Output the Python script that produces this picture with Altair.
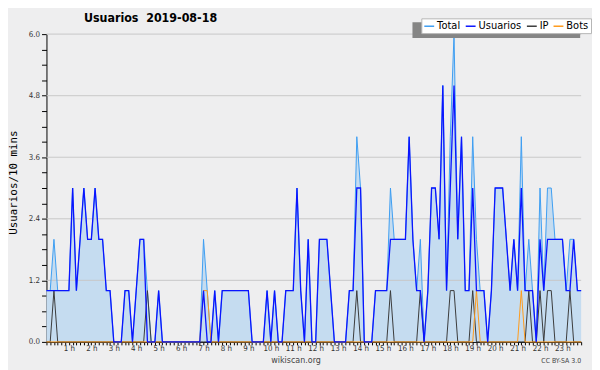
import altair as alt
import pandas as pd

# ---- data (10-minute buckets, 144 per day) ----
hour_labels = [f"{h} h" for h in range(1, 24)]
series_names = ["Total", "Usuarios", "IP", "Bots"]
series_colors = ["#3d9df2", "#0a14ff", "#3a3a3a", "#ff9a1a"]
y_grid = [1.2, 2.4, 3.6, 4.8, 6.0]
title_text = ["Usuarios\u00a0\u00a02019-08-18"]
footer_text = ["wikiscan.org"]
license_text = ["CC BY-SA 3.0"]

total = [
    1, 1, 2, 1, 1, 1,   1, 3, 1, 2, 3, 2,   2, 3, 2, 2, 1, 1,   0, 0, 0, 1, 1, 0,
    1, 2, 2, 1, 0, 0,   1, 0, 0, 0, 0, 0,   0, 0, 0, 0, 0, 0,   2, 1, 0, 1, 0, 1,
    1, 1, 1, 1, 1, 1,   1, 0, 0, 0, 0, 1,   0, 1, 0, 0, 1, 1,   1, 3, 1, 0, 2, 0,
    0, 2, 2, 2, 1, 0,   0, 0, 0, 1, 1, 4,   3, 0, 0, 0, 1, 1,   1, 1, 3, 2, 2, 2,
    2, 4, 2, 1, 2, 0,   1, 3, 3, 2, 5, 1,   4, 6, 2, 4, 1, 1,   4, 2, 1, 1, 0, 1,
    3, 3, 3, 2, 1, 2,   1, 4, 1, 2, 1, 0,   3, 1, 3, 3, 2, 2,   2, 1, 2, 2, 1, 1,
]
usuarios = [
    1, 1, 1, 1, 1, 1,   1, 3, 1, 2, 3, 2,   2, 3, 2, 2, 1, 1,   0, 0, 0, 1, 1, 0,
    1, 2, 2, 0, 0, 0,   1, 0, 0, 0, 0, 0,   0, 0, 0, 0, 0, 0,   1, 0, 0, 1, 0, 1,
    1, 1, 1, 1, 1, 1,   1, 0, 0, 0, 0, 1,   0, 1, 0, 0, 1, 1,   1, 3, 1, 0, 2, 0,
    0, 2, 2, 2, 1, 0,   0, 0, 0, 1, 1, 3,   3, 0, 0, 0, 1, 1,   1, 1, 2, 2, 2, 2,
    2, 4, 2, 1, 1, 0,   1, 3, 3, 2, 5, 1,   3, 5, 2, 4, 1, 1,   3, 1, 1, 1, 0, 1,
    3, 3, 3, 2, 1, 2,   1, 3, 1, 1, 1, 0,   2, 1, 2, 2, 2, 2,   2, 1, 1, 2, 1, 1,
]
ip = [
    0, 0, 1, 0, 0, 0,   0, 0, 0, 0, 0, 0,   0, 0, 0, 0, 0, 0,   0, 0, 0, 0, 0, 0,
    0, 0, 0, 1, 0, 0,   0, 0, 0, 0, 0, 0,   0, 0, 0, 0, 0, 0,   0, 0, 0, 0, 0, 0,
    0, 0, 0, 0, 0, 0,   0, 0, 0, 0, 0, 0,   0, 0, 0, 0, 0, 0,   0, 0, 0, 0, 0, 0,
    0, 0, 0, 0, 0, 0,   0, 0, 0, 0, 0, 1,   0, 0, 0, 0, 0, 0,   0, 0, 1, 0, 0, 0,
    0, 0, 0, 0, 1, 0,   0, 0, 0, 0, 0, 0,   1, 1, 0, 0, 0, 0,   1, 0, 0, 0, 0, 0,
    0, 0, 0, 0, 0, 0,   0, 0, 0, 1, 0, 0,   1, 0, 1, 1, 0, 0,   0, 0, 1, 0, 0, 0,
]
bots = [
    0, 0, 0, 0, 0, 0,   0, 0, 0, 0, 0, 0,   0, 0, 0, 0, 0, 0,   0, 0, 0, 0, 0, 0,
    0, 0, 0, 0, 0, 0,   0, 0, 0, 0, 0, 0,   0, 0, 0, 0, 0, 0,   1, 1, 0, 0, 0, 0,
    0, 0, 0, 0, 0, 0,   0, 0, 0, 0, 0, 0,   0, 0, 0, 0, 0, 0,   0, 0, 0, 0, 0, 0,
    0, 0, 0, 0, 0, 0,   0, 0, 0, 0, 0, 0,   0, 0, 0, 0, 0, 0,   0, 0, 0, 0, 0, 0,
    0, 0, 0, 0, 0, 0,   0, 0, 0, 0, 0, 0,   0, 0, 0, 0, 0, 0,   0, 1, 0, 0, 0, 0,
    0, 0, 0, 0, 0, 0,   0, 1, 0, 0, 0, 0,   0, 0, 0, 0, 0, 0,   0, 0, 0, 0, 0, 0,
]

idx = list(range(len(total)))
df = pd.DataFrame({"idx": idx, "Total": total, "Usuarios": usuarios, "IP": ip, "Bots": bots})
long = df.melt(id_vars="idx", var_name="serie", value_name="val")

FONT = "DejaVu Sans"
COND = "DejaVu Sans Condensed, DejaVu Sans"
xs = alt.Scale(domain=[0, len(idx) - 1], nice=False, zero=False)
ys = alt.Scale(domain=[0, 6], nice=False)
color_scale = alt.Scale(domain=series_names, range=series_colors)

label_expr = (
    "datum.value % 6 == 0 && datum.value > 0 ? "
    "[" + ",".join("'" + s + "'" for s in hour_labels) + "][datum.value/6 - 1] : ''"
)
x_axis = alt.Axis(
    values=idx, labelExpr=label_expr, tickSize=3, tickColor="black", domainColor="black",
    labelFontSize=8, labelFont=COND, labelColor="#333", labelPadding=0, labelOverlap=False,
    grid=False, title=None, domainWidth=1, tickWidth=1,
)
y_ticks = [round(0.3 * k, 1) for k in range(21)]
y_axis = alt.Axis(
    values=y_ticks,
    labelExpr="abs(datum.value/1.2 - round(datum.value/1.2)) < 0.001 ? format(datum.value, '.1f') : ''",
    tickSize=5, tickColor="black", domainColor="black", labelFontSize=8, labelFont=COND,
    labelColor="#333", labelPadding=2, grid=False, labelOverlap=False,
    title="Usuarios/10 mins", titleFont="DejaVu Sans Mono", titleFontSize=11,
    titleFontWeight="normal", titleColor="black", titleX=-33, titleY=150, titleAngle=270,
    titleAlign="center", titleBaseline="middle",
)

legend = alt.Legend(
    orient="none", legendX=380, legendY=-16, direction="horizontal", title=None,
    fillColor="white", strokeColor="#b5b5b5", padding=2, symbolType="stroke",
    symbolSize=100, symbolStrokeWidth=1.5, labelFontSize=10, labelFont=FONT,
    labelColor="black", columnPadding=2, labelOffset=2,
)

X = alt.X("idx:Q", scale=xs, axis=x_axis)

area = alt.Chart(df).mark_area(color="#c5dcf0", opacity=1).encode(
    x=X, y=alt.Y("Total:Q", scale=ys, axis=y_axis),
)

grid = alt.Chart(pd.DataFrame({"g": y_grid})).mark_rule(color="#c8c8c8", strokeWidth=1).encode(
    y=alt.Y("g:Q", scale=ys, axis=y_axis)
)

def line(name, width):
    return alt.Chart(long).transform_filter(alt.datum.serie == name).mark_line(
        strokeWidth=width, interpolate="linear"
    ).encode(
        x=X,
        y=alt.Y("val:Q", scale=ys, axis=y_axis),
        color=alt.Color("serie:N", scale=color_scale, legend=legend),
    )

# drop shadow behind the legend box (offset down-left)
shadow = alt.Chart(pd.DataFrame({"s": [0]})).mark_rect(color="#858585").encode(
    x=alt.value(371), x2=alt.value(541), y=alt.value(-12), y2=alt.value(4)
)

title = alt.Chart(pd.DataFrame({"t": title_text})).mark_text(
    font=COND, fontSize=12.5, fontWeight="bold", color="black", align="left", baseline="alphabetic"
).encode(text="t:N", x=alt.value(38), y=alt.value(-12))

footer = alt.Chart(pd.DataFrame({"t": footer_text})).mark_text(
    font=COND, fontSize=9, color="#444", align="center", baseline="alphabetic"
).encode(text="t:N", x=alt.value(253), y=alt.value(333))

lic = alt.Chart(pd.DataFrame({"t": license_text})).mark_text(
    font=COND, fontSize=7, color="#444", align="right", baseline="alphabetic"
).encode(text="t:N", x=alt.value(542), y=alt.value(333))

chart = alt.layer(
    area, grid, line("Total", 1), line("IP", 1), line("Bots", 1), line("Usuarios", 1.3),
    shadow, title, footer, lic,
).properties(
    width=542, height=312,
    autosize=alt.AutoSizeParams(type="none"),
    padding={"left": 39, "top": 24, "right": 11, "bottom": 26},
).configure(background="#eeeeef").configure_view(stroke=None)

chart.save("out.html", embed_options={"renderer": "svg", "actions": False})
